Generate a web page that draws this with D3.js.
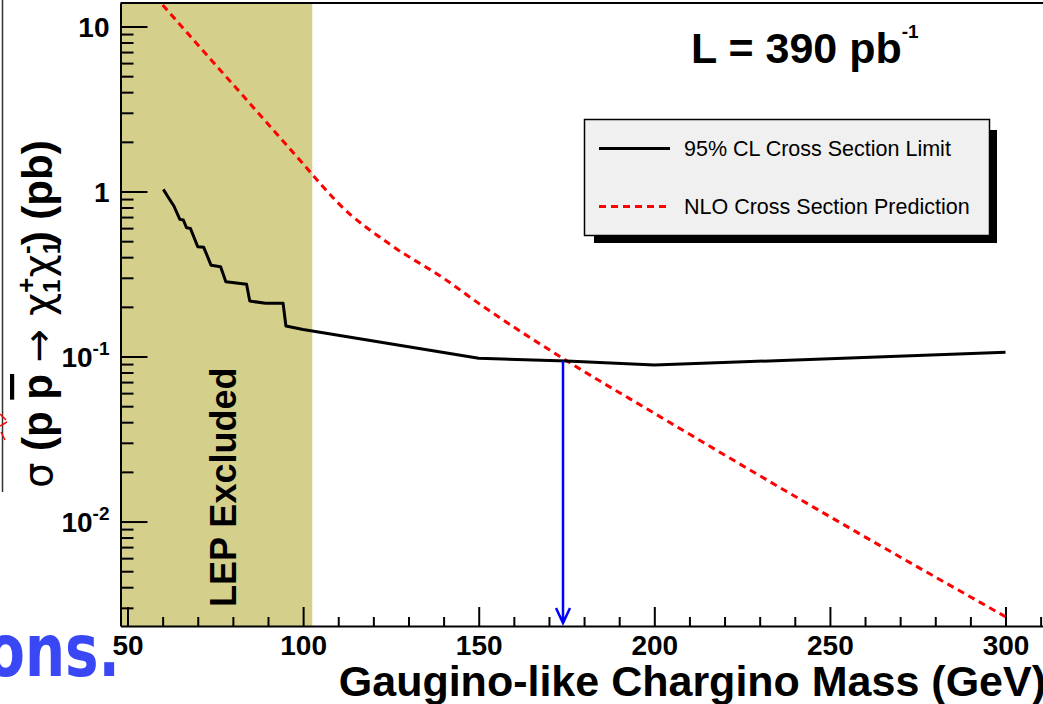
<!DOCTYPE html>
<html>
<head>
<meta charset="utf-8">
<script src="https://cdn.jsdelivr.net/npm/d3@7"></script>
<style>
  body { margin: 0; background: #fff; }
  svg { display: block; font-family: "Liberation Sans", Arial, sans-serif; }
</style>
</head>
<body>
<script>
// 95% CL cross section limit (pb) vs chargino mass (GeV)
const limitMass = [60.2, 61.5, 63.2, 64.9, 65.9, 66.8, 67.9, 70.0, 71.7, 73.8, 76.5, 78.0, 83.9, 84.8, 89.3, 94.3, 95.1, 100, 150, 175, 200, 300];
const limitXsec = [1.03, 0.93, 0.817, 0.678, 0.672, 0.603, 0.598, 0.463, 0.459, 0.357, 0.350, 0.284, 0.274, 0.217, 0.210, 0.210, 0.153, 0.146, 0.0975, 0.0939, 0.0888, 0.106];

// NLO cross section prediction (pb)
const nloMass = [60, 80, 100, 105, 110, 125, 140, 150, 175, 200, 250, 300];
const nloXsec = [13.5, 4.46, 1.47, 1.11, 0.85, 0.474, 0.298, 0.21, 0.0944, 0.0453, 0.0107, 0.00265];

const lepLimit = 102.6;      // LEP excluded below this mass
const massLimit = 174;       // where limit crosses the prediction
const massLimitXsec = 0.094;

const xTicks = [50, 100, 150, 200, 250, 300];
const yTicks = [0.01, 0.1, 1, 10];
const yTickLabels = [["10", "-2"], ["10", "-1"], ["1", ""], ["10", ""]];
const legendLabels = ["95% CL Cross Section Limit", "NLO Cross Section Prediction"];

const width = 1043, height = 704;
const svg = d3.select("body").append("svg")
    .attr("width", width)
    .attr("height", height);

// scales
const x = d3.scaleLinear().domain([48, 316]).range([120.5, 1061.7]);
const y = d3.scaleLog().domain([0.002328, 13.88]).range([626, 3]);

// clip to the frame
svg.append("clipPath").attr("id", "plot")
    .append("rect")
    .attr("x", x.range()[0]).attr("y", 3)
    .attr("width", x.range()[1] - x.range()[0]).attr("height", 623);

// LEP excluded band
svg.append("rect")
    .attr("x", x(48)).attr("y", y.range()[1])
    .attr("width", x(lepLimit) - x(48))
    .attr("height", y.range()[0] - y.range()[1])
    .attr("fill", "#d4cf8a");

svg.append("text")
    .attr("transform", `translate(${x(81)},607) rotate(-90)`)
    .attr("font-size", 36).attr("font-weight", "bold")
    .text("LEP Excluded");

// minor ticks
const xMinor = d3.range(50, 311, 10).filter(d => d % 50 !== 0);
svg.append("g")
    .attr("transform", "translate(0,626)")
    .call(d3.axisBottom(x).tickValues(xMinor).tickFormat("").tickSize(-9).tickSizeOuter(0))
    .call(g => g.select(".domain").remove())
    .call(g => g.selectAll("line").attr("stroke-width", 2));

const yMinor = [];
[0.001, 0.01, 0.1, 1, 10].forEach(dec => {
    for (let k = 2; k <= 9; k++) {
        const v = dec * k;
        if (v > y.domain()[0] && v < y.domain()[1]) yMinor.push(v);
    }
});
svg.append("g")
    .attr("transform", `translate(${x.range()[0]},0)`)
    .call(d3.axisLeft(y).tickValues(yMinor).tickFormat("").tickSize(-13).tickSizeOuter(0))
    .call(g => g.select(".domain").remove())
    .call(g => g.selectAll("line").attr("stroke-width", 2));

// major axes
svg.append("g")
    .attr("transform", "translate(0,626)")
    .call(d3.axisBottom(x).tickValues(xTicks).tickSize(-19).tickSizeOuter(0).tickPadding(9))
    .call(g => g.select(".domain").attr("stroke-width", 2))
    .call(g => g.selectAll("line").attr("stroke-width", 2))
    .call(g => g.selectAll("text")
        .attr("font-size", 28).attr("font-weight", "bold")
        .attr("font-family", "Liberation Sans, Arial, sans-serif").attr("fill", "#000"));

const yAxis = svg.append("g")
    .attr("transform", `translate(${x.range()[0]},0)`)
    .call(d3.axisLeft(y).tickValues(yTicks).tickFormat("").tickSize(-27).tickSizeOuter(0).tickPadding(11))
    .call(g => g.select(".domain").attr("stroke-width", 2))
    .call(g => g.selectAll("line").attr("stroke-width", 2));

yAxis.selectAll(".tick text")
    .attr("font-size", 28).attr("font-weight", "bold")
    .attr("font-family", "Liberation Sans, Arial, sans-serif").attr("fill", "#000")
    .attr("dy", "0.36em")
    .each(function(d, i) {
        const t = d3.select(this);
        t.append("tspan").text(yTickLabels[i][0]);
        if (yTickLabels[i][1]) {
            t.append("tspan").attr("font-size", 19).attr("dy", -12).text(yTickLabels[i][1]);
        }
    });

// top frame line
svg.append("line")
    .attr("x1", x.range()[0]).attr("x2", width)
    .attr("y1", 3).attr("y2", 3)
    .attr("stroke", "#000").attr("stroke-width", 2);

// curves
const plot = svg.append("g").attr("clip-path", "url(#plot)");

const line = d3.line()
    .x(d => x(d[0]))
    .y(d => y(d[1]));

plot.append("path")
    .datum(nloMass.map((m, i) => [m, nloXsec[i]]))
    .attr("d", line.curve(d3.curveMonotoneX))
    .attr("fill", "none")
    .attr("stroke", "#ff0000")
    .attr("stroke-width", 3)
    .attr("stroke-dasharray", "7,5");

plot.append("path")
    .datum(limitMass.map((m, i) => [m, limitXsec[i]]))
    .attr("d", line.curve(d3.curveLinear))
    .attr("fill", "none")
    .attr("stroke", "#000")
    .attr("stroke-width", 3)
    .attr("stroke-linejoin", "round");

// mass limit arrow
const ax = x(massLimit);
const tip = y.range()[0] - 3;
svg.append("path")
    .attr("d", `M${ax},${y(massLimitXsec)}V${tip}M${ax - 7},${tip - 15}L${ax},${tip}L${ax + 7},${tip - 15}`)
    .attr("fill", "none")
    .attr("stroke", "#0000ff")
    .attr("stroke-width", 2.5);

// luminosity label
const lumi = svg.append("text")
    .attr("x", 691).attr("y", 63)
    .attr("font-size", 43).attr("font-weight", "bold");
lumi.append("tspan").text("L = 390 pb");
lumi.append("tspan").attr("font-size", 19).attr("dy", -25).text("-1");

// legend
svg.append("rect")
    .attr("x", 594).attr("y", 130).attr("width", 403).attr("height", 113)
    .attr("fill", "#000");
svg.append("rect")
    .attr("x", 584.5).attr("y", 119.5).attr("width", 405).attr("height", 116)
    .attr("fill", "#f0f0f0").attr("stroke", "#000").attr("stroke-width", 1.5);

const legend = svg.append("g")
    .selectAll("g")
    .data(legendLabels)
    .enter().append("g")
    .attr("transform", (d, i) => `translate(0,${148.5 + i * 58})`);

legend.append("line")
    .attr("x1", 599).attr("x2", 670)
    .attr("stroke", (d, i) => i === 0 ? "#000" : "#ff0000")
    .attr("stroke-width", 3)
    .attr("stroke-dasharray", (d, i) => i === 0 ? null : "7,5");

legend.append("text")
    .attr("x", 684).attr("y", 7)
    .attr("font-size", 21.5)
    .text(d => d);

// axis titles
svg.append("text")
    .attr("x", 1046).attr("y", 696)
    .attr("text-anchor", "end")
    .attr("font-size", 43).attr("font-weight", "bold")
    .text("Gaugino-like Chargino Mass (GeV)");

const yTitle = svg.append("text")
    .attr("transform", "translate(52,488) rotate(-90)")
    .attr("font-size", 42).attr("font-weight", "bold");
const greek = sel => sel.attr("font-family", "DejaVu Sans, sans-serif").attr("font-weight", "normal");
yTitle.append("tspan").call(greek).attr("font-size", 40).text("σ");
yTitle.append("tspan").text(" (p ");
yTitle.append("tspan").attr("text-decoration", "overline").text("p");
yTitle.append("tspan").text(" ");
yTitle.append("tspan").call(greek).attr("font-size", 40).text("→ χ");
yTitle.append("tspan").attr("font-size", 24).attr("dy", 8).text("1");
yTitle.append("tspan").attr("font-size", 26).attr("dx", -13).attr("dy", -25).text("+");
yTitle.append("tspan").call(greek).attr("font-size", 40).attr("dy", 17).text("χ");
yTitle.append("tspan").attr("font-size", 24).attr("dy", 8).text("1");
yTitle.append("tspan").attr("font-size", 26).attr("dx", -13).attr("dy", -25).text("-");
yTitle.append("tspan").attr("dy", 17).text(") (pb)");

// leftovers of the neighbouring slide
svg.append("line")
    .attr("x1", 2.5).attr("x2", 2.5).attr("y1", 0).attr("y2", 492)
    .attr("stroke", "#333").attr("stroke-width", 1.5);
svg.append("path")
    .attr("d", "M0,414L6,420M0,426L7,422M1,432L5,440")
    .attr("stroke", "#ff0000").attr("stroke-width", 1.5);

svg.append("text")
    .attr("transform", "translate(120,676) scale(0.88,1.15)")
    .attr("text-anchor", "end")
    .attr("font-family", "DejaVu Sans, sans-serif")
    .attr("font-size", 64).attr("font-weight", "bold")
    .attr("fill", "#3a47f5")
    .text("ons.");
</script>
</body>
</html>
